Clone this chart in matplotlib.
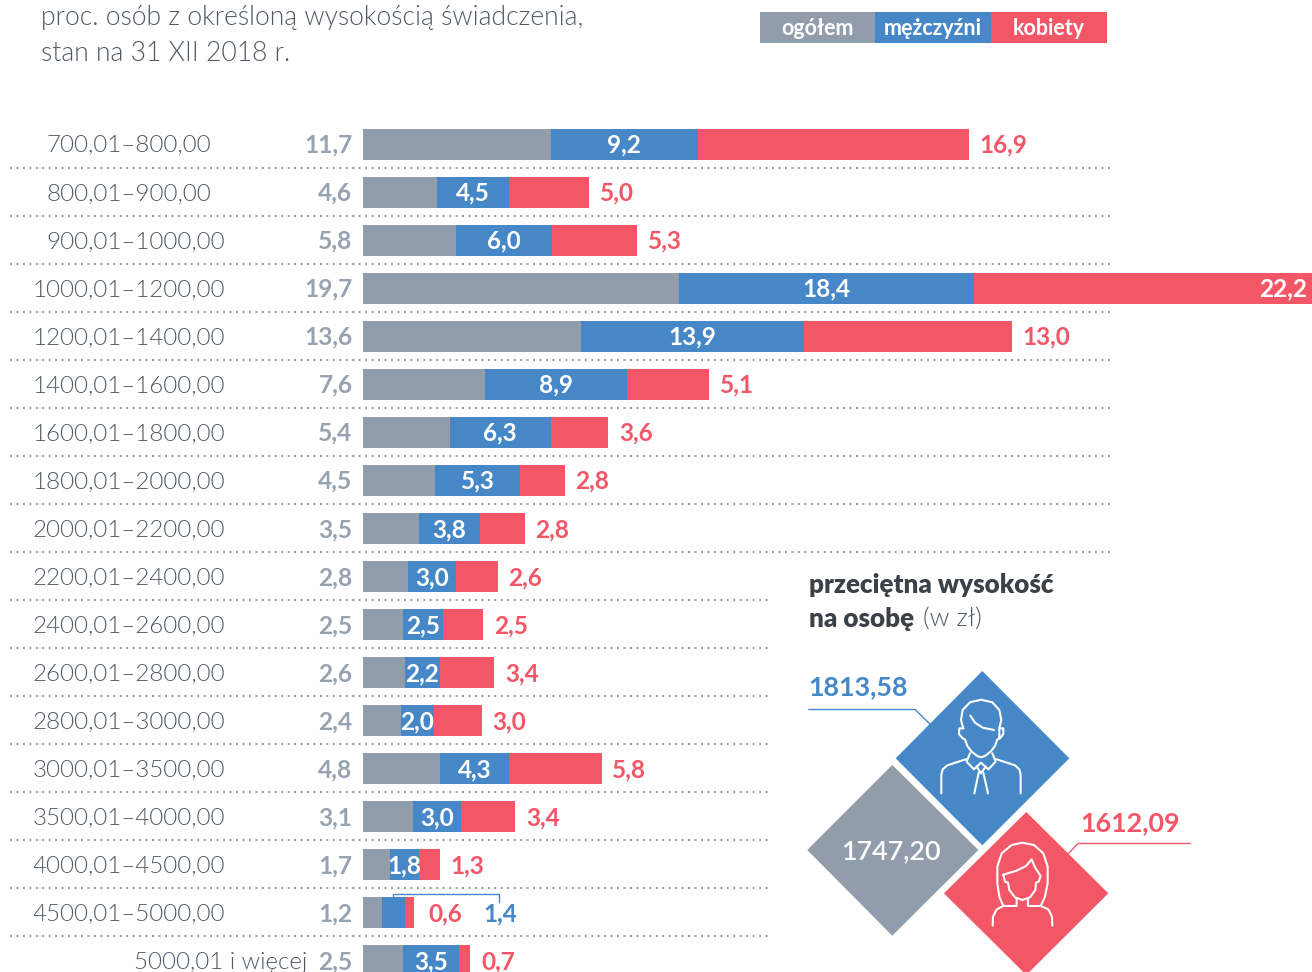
import matplotlib
matplotlib.use("Agg")
import matplotlib.pyplot as plt
from matplotlib.patches import Polygon, Rectangle

categories = ["700,01–800,00", "800,01–900,00", "900,01–1000,00", "1000,01–1200,00",
              "1200,01–1400,00", "1400,01–1600,00", "1600,01–1800,00", "1800,01–2000,00",
              "2000,01–2200,00", "2200,01–2400,00", "2400,01–2600,00", "2600,01–2800,00",
              "2800,01–3000,00", "3000,01–3500,00", "3500,01–4000,00", "4000,01–4500,00",
              "4500,01–5000,00", "5000,01 i więcej"]
ogolem = [11.7, 4.6, 5.8, 19.7, 13.6, 7.6, 5.4, 4.5, 3.5, 2.8, 2.5, 2.6, 2.4, 4.8, 3.1, 1.7, 1.2, 2.5]
mezczyzni = [9.2, 4.5, 6.0, 18.4, 13.9, 8.9, 6.3, 5.3, 3.8, 3.0, 2.5, 2.2, 2.0, 4.3, 3.0, 1.8, 1.4, 3.5]
kobiety = [16.9, 5.0, 5.3, 22.2, 13.0, 5.1, 3.6, 2.8, 2.8, 2.6, 2.5, 3.4, 3.0, 5.8, 3.4, 1.3, 0.6, 0.7]
legend_labels = ["ogółem", "mężczyźni", "kobiety"]
avg_total, avg_men, avg_women = "1747,20", "1813,58", "1612,09"

GREY, BLUE, RED = "#929dab", "#4587c7", "#f25667"
TXT = "#4f5a66"
W, H = 1312, 972
plt.rcParams["font.family"] = ["Lato", "DejaVu Sans"]
LIGHT = 300


def fmt(v):
    return f"{v:.1f}".replace(".", ",")


fig = plt.figure(figsize=(W / 100, H / 100), dpi=100, facecolor="white")

# bar axes: about 16 px per percentage point, zero at x=363; 48 px per row
SC = 16.03
Y0 = 144.5
ax = fig.add_axes([0, 0, 1, 1], facecolor="none", zorder=1)
ax.set_xlim(-363 / SC, (W - 363) / SC)
ax.set_ylim((H - Y0) / 48.0, -Y0 / 48.0)
ax.axis("off")

# overlay in pixel coordinates for texts and decorations
px = fig.add_axes([0, 0, 1, 1], facecolor="none", zorder=2)
px.set_xlim(0, W)
px.set_ylim(H, 0)
px.axis("off")

rows = list(range(len(categories)))
lefts2 = ogolem
lefts3 = [a + b for a, b in zip(ogolem, mezczyzni)]
bh = 31 / 48.0
ax.barh(rows, ogolem, height=bh, color=GREY, linewidth=0)
ax.barh(rows, mezczyzni, left=lefts2, height=bh, color=BLUE, linewidth=0)
ax.barh(rows, kobiety, left=lefts3, height=bh, color=RED, linewidth=0)

FS = 17.6
ys = [143 + 48.06 * i for i in rows]
label_centres = [128.5, 128.5, 135.5] + [128.5] * 14 + [221]
for i, cat in enumerate(categories):
    y = ys[i]
    px.text(label_centres[i], y, cat, ha="center", va="center_baseline",
            fontsize=17.35, color=TXT, fontweight=LIGHT, zorder=6)
    px.text(352.5, y, fmt(ogolem[i]), ha="right", va="center_baseline", fontsize=17.7,
            color="#97a3b1", fontweight="bold", zorder=6)
    if i < 17:
        x1 = 1110 if i < 9 else 771
        ly = 168 + 48 * i
        px.plot([10, x1], [ly, ly], color="#8f9aa8", lw=1.5,
                linestyle=(0, (0.9, 2.2)), zorder=1)

for i in rows:
    y = ys[i]
    mid = 363 + (lefts2[i] + mezczyzni[i] / 2) * SC
    end = 363 + (lefts3[i] + kobiety[i]) * SC
    if i == 16:
        px.text(445, y, fmt(kobiety[i]), color=RED, fontsize=FS, fontweight="bold",
                ha="center", va="center_baseline", zorder=6)
        px.text(500, y, fmt(mezczyzni[i]), color=BLUE, fontsize=FS, fontweight="bold",
                ha="center", va="center_baseline", zorder=6)
        continue
    px.text(mid, y, fmt(mezczyzni[i]), color="white", fontsize=FS, fontweight="bold",
            ha="center", va="center_baseline", zorder=6)
    if i == 3:
        px.text(1307, y, fmt(kobiety[i]), color="white", fontsize=FS, fontweight="bold",
                ha="right", va="center_baseline", zorder=6)
    else:
        px.text(end + 10.5, y, fmt(kobiety[i]), color=RED, fontsize=FS, fontweight="bold",
                ha="left", va="center_baseline", zorder=6)

px.plot([393, 393, 499, 499], [897, 894, 894, 902], color=BLUE, lw=1, zorder=6)

# header and legend
px.text(41, 15, "proc. osób z określoną wysokością świadczenia,", fontsize=19.08, color=TXT,
        fontweight=LIGHT, va="center_baseline")
px.text(41, 51, "stan na 31 XII 2018 r.", fontsize=19.08, color=TXT, fontweight=LIGHT,
        va="center_baseline")
for (x0, x1), c, lab in zip([(760, 875), (875, 991), (991, 1107)], [GREY, BLUE, RED], legend_labels):
    px.add_patch(Rectangle((x0, 12), x1 - x0, 31, color=c, lw=0))
    px.text((x0 + x1) / 2, 26.5, lab, color="white", fontsize=15.5, fontweight="bold",
            ha="center", va="center_baseline")

# panel title
px.text(809, 583, "przeciętna wysokość", fontsize=18.7, fontweight="heavy", color="#3c4148",
        va="center_baseline")
px.text(809, 617, "na osobę", fontsize=18.7, fontweight="heavy", color="#3c4148",
        va="center_baseline")
px.text(923, 617, "(w zł)", fontsize=18.6, fontweight=LIGHT, color=TXT, va="center_baseline")

# diamonds
px.add_patch(Polygon([(982.3, 671), (1069.3, 758.3), (982.3, 845.3), (895.7, 758.3)], color=BLUE, lw=0))
px.add_patch(Polygon([(892.3, 765), (978.3, 850), (892.3, 935.7), (807.3, 850)], color=GREY, lw=0))
px.add_patch(Polygon([(1026.3, 812), (1108.3, 893.3), (1026.3, 975), (944, 893.3)], color=RED, lw=0))
px.text(890.5, 849, avg_total, color="white", fontsize=19.4, fontweight=600, ha="center",
        va="center_baseline")
px.text(808, 685, avg_men, color=BLUE, fontsize=19.4, fontweight="bold", va="center_baseline")
px.text(1080, 821, avg_women, color=RED, fontsize=19.4, fontweight="bold", va="center_baseline")
px.plot([809, 915, 930], [709.5, 709.5, 724], color=BLUE, lw=1)
px.plot([1190, 1078, 1068], [843.5, 843.5, 854], color=RED, lw=1)


def icon(points):
    xs = [790 + p[0] / 3 for p in points]
    ys_ = [660 + p[1] / 3 for p in points]
    px.plot(xs, ys_, color="white", lw=1.5, solid_capstyle="round", solid_joinstyle="round", zorder=5)


# man icon
icon([(520, 205), (513, 180), (518, 150), (540, 127), (573, 119), (607, 127), (628, 150), (634, 180), (628, 205)])
icon([(520, 205), (508, 205), (507, 222), (518, 235), (525, 238), (532, 258), (545, 275), (562, 288), (573, 292),
      (585, 288), (602, 275), (615, 258), (622, 238), (630, 235), (640, 222), (640, 205), (628, 205), (628, 235)])
icon([(541, 167), (555, 188), (578, 203), (612, 210)])
icon([(540, 280), (530, 305), (552, 328), (573, 308), (595, 328), (617, 305), (607, 280)])
icon([(530, 297), (472, 316), (458, 328), (454, 345), (454, 400)])
icon([(617, 297), (675, 316), (688, 328), (692, 345), (692, 400)])
icon([(560, 320), (573, 340), (587, 320)])
icon([(566, 338), (553, 400)])
icon([(580, 338), (594, 400)])
# woman icon
icon([(640, 738), (628, 710), (622, 670), (622, 620), (635, 580), (665, 555), (697, 548), (732, 555), (760, 580),
      (773, 620), (773, 670), (765, 710), (752, 738)])
icon([(640, 644), (680, 632), (708, 618), (725, 598), (735, 622), (752, 648), (746, 665), (738, 668), (736, 690),
      (720, 712), (697, 720), (675, 712), (658, 690), (654, 668), (645, 665), (640, 644)])
icon([(680, 716), (680, 738), (640, 738), (620, 748), (609, 770), (608, 797)])
icon([(714, 716), (714, 738), (752, 738), (775, 748), (786, 770), (787, 797)])

fig.savefig("out.png", dpi=100, facecolor="white")
